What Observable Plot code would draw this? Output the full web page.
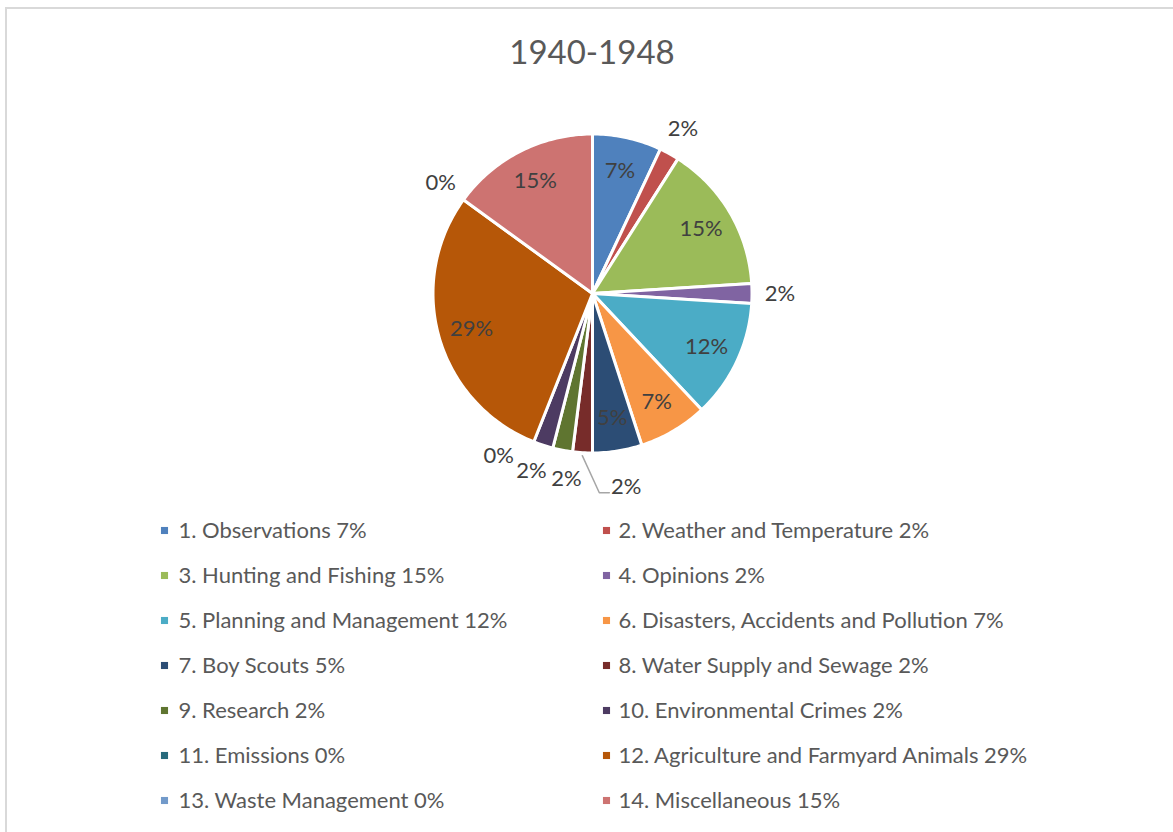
<!DOCTYPE html>
<html>
<head>
<meta charset="utf-8">
<script src="https://cdn.jsdelivr.net/npm/d3@7"></script>
<script src="https://cdn.jsdelivr.net/npm/@observablehq/plot@0.6"></script>
<style>
  html, body { margin: 0; padding: 0; background: #fff; }
  #frame { position: relative; width: 1173px; height: 832px; overflow: hidden; font-family: Lato, "Open Sans", sans-serif; }
  #border { position: absolute; left: 5px; top: 7px; width: 1200px; height: 900px; border-left: 2px solid #d9d9d9; border-top: 2px solid #d9d9d9; }
  #title { position: absolute; left: 11px; top: 0; width: 1162px; height: 96px; text-align: center; font-size: 33px; line-height: 33px; color: #595959; padding-top: 35px; box-sizing: border-box; }
  #chart { position: absolute; left: 0; top: 96px; }
</style>
</head>
<body>
<div id="frame">
  <div id="border"></div>
  <div id="title">1940-1948</div>
  <div id="chart"></div>
</div>
<script>
// ---- data ----
const chartTitle = "1940-1948";
const categories = [
  "1. Observations",
  "2. Weather and Temperature",
  "3. Hunting and Fishing",
  "4. Opinions",
  "5. Planning and Management",
  "6. Disasters, Accidents and Pollution",
  "7. Boy Scouts",
  "8. Water Supply and Sewage",
  "9. Research",
  "10. Environmental Crimes",
  "11. Emissions",
  "12. Agriculture and Farmyard Animals",
  "13. Waste Management",
  "14. Miscellaneous"
];
const shares = [7, 2, 15, 2, 12, 7, 5, 2, 2, 2, 0, 29, 0, 15];
const colors = [
  "#4F81BD", "#C0504D", "#9BBB59", "#8064A2", "#4BACC6", "#F79646", "#2C4D75",
  "#772C2A", "#5F7530", "#4D3B62", "#276A7C", "#B65708", "#729ACA", "#CD7371"
];

// ---- layout ----
const W = 1173, H = 736;
const cx = 592, cy = 197, R = 159.5;
const insideFactor = 0.79;
const outsideGap = 28;
const minSepDeg = 11;
const legendX = [164, 606];
const legendTextX = [178, 618];
const legendTop = 434, legendStep = 45;

const deg = Math.PI / 180;
const pt = (a, r) => [cx + r * Math.sin(a), cy - r * Math.cos(a)];

const arcs = d3.pie().sort(null).value(d => d)(shares);

// slice outlines (geometric sampling of each arc)
const slicePts = [];
arcs.forEach((a, i) => {
  if (a.value <= 0) return;
  const cat = categories[i];
  slicePts.push({cat, x: cx, y: cy});
  const n = Math.max(2, Math.ceil((a.endAngle - a.startAngle) / deg));
  for (let k = 0; k <= n; k++) {
    const t = a.startAngle + (a.endAngle - a.startAngle) * k / n;
    const [x, y] = pt(t, R);
    slicePts.push({cat, x, y});
  }
});

// labels
const inside = [], outside = [];
arcs.forEach((a, i) => {
  const mid = (a.startAngle + a.endAngle) / 2;
  const item = {i, mid, value: a.value, label: `${a.value}%`};
  if (a.value >= 5) {
    const [x, y] = pt(mid, R * insideFactor);
    inside.push({...item, x, y});
  } else {
    outside.push({...item, ang: mid});
  }
});
// spread crowded outside labels along the circle
outside.sort((p, q) => p.mid - q.mid);
const minSep = minSepDeg * deg;
for (let iter = 0; iter < 50; iter++) {
  let changed = false;
  let groups = [[outside[0]]];
  for (let k = 1; k < outside.length; k++) {
    const prev = groups[groups.length - 1];
    if (outside[k].ang - prev[prev.length - 1].ang < minSep - 1e-6) prev.push(outside[k]);
    else groups.push([outside[k]]);
  }
  for (const g of groups) {
    if (g.length < 2) continue;
    const mean = d3.mean(g, d => d.mid);
    g.forEach((d, k) => {
      const na = mean + (k - (g.length - 1) / 2) * minSep;
      if (Math.abs(na - d.ang) > 1e-6) { d.ang = na; changed = true; }
    });
  }
  if (!changed) break;
}
outside.forEach(d => {
  const [x, y] = pt(d.ang, R + outsideGap);
  d.x = x; d.y = y;
  d.moved = d.value > 0 && Math.abs(d.ang - d.mid) > 3 * deg;
  // a displaced label moves a little further out to make room for its leader line
  if (d.moved) { d.x += 24 * Math.sign(Math.sin(d.ang - d.mid) * -1 || 1); d.y += 6; }
});
const leaders = [];
outside.forEach(d => {
  if (d.moved) {
    const [x1, y1] = pt(d.mid, R + 3);
    leaders.push({id: d.i, x: x1, y: y1}, {id: d.i, x: d.x - 27, y: d.y + 6}, {id: d.i, x: d.x - 17, y: d.y + 6});
  }
});

// legend
const legend = categories.map((c, i) => ({
  cat: c,
  text: `${c} ${shares[i]}%`,
  col: i % 2,
  row: Math.floor(i / 2)
}));

const plot = Plot.plot({
  width: W, height: H,
  margin: 0,
  x: {domain: [0, W], range: [0, W], axis: null},
  y: {domain: [0, H], range: [0, H], axis: null},
  color: {domain: categories, range: colors},
  style: {fontFamily: "Lato, 'Open Sans', sans-serif", background: "transparent"},
  marks: [
    Plot.line(slicePts, {x: "x", y: "y", z: "cat", fill: "cat", stroke: "white", strokeWidth: 3, curve: "linear-closed", strokeLinejoin: "round"}),
    Plot.line(leaders, {x: "x", y: "y", z: "id", stroke: "#a6a6a6", strokeWidth: 1.5}),
    Plot.text(inside, {x: "x", y: "y", text: "label", fill: "#404040", fontSize: 22}),
    Plot.text(outside, {x: "x", y: "y", text: "label", fill: "#404040", fontSize: 22}),
    Plot.dot(legend, {x: d => legendX[d.col], y: d => legendTop + d.row * legendStep, symbol: "square", r: 4, fill: "cat", stroke: null}),
    Plot.text(legend, {x: d => legendTextX[d.col], y: d => legendTop + d.row * legendStep, text: "text", textAnchor: "start", fill: "#595959", fontSize: 22})
  ]
});
document.getElementById("chart").appendChild(plot);
document.getElementById("title").textContent = chartTitle;
</script>
</body>
</html>
